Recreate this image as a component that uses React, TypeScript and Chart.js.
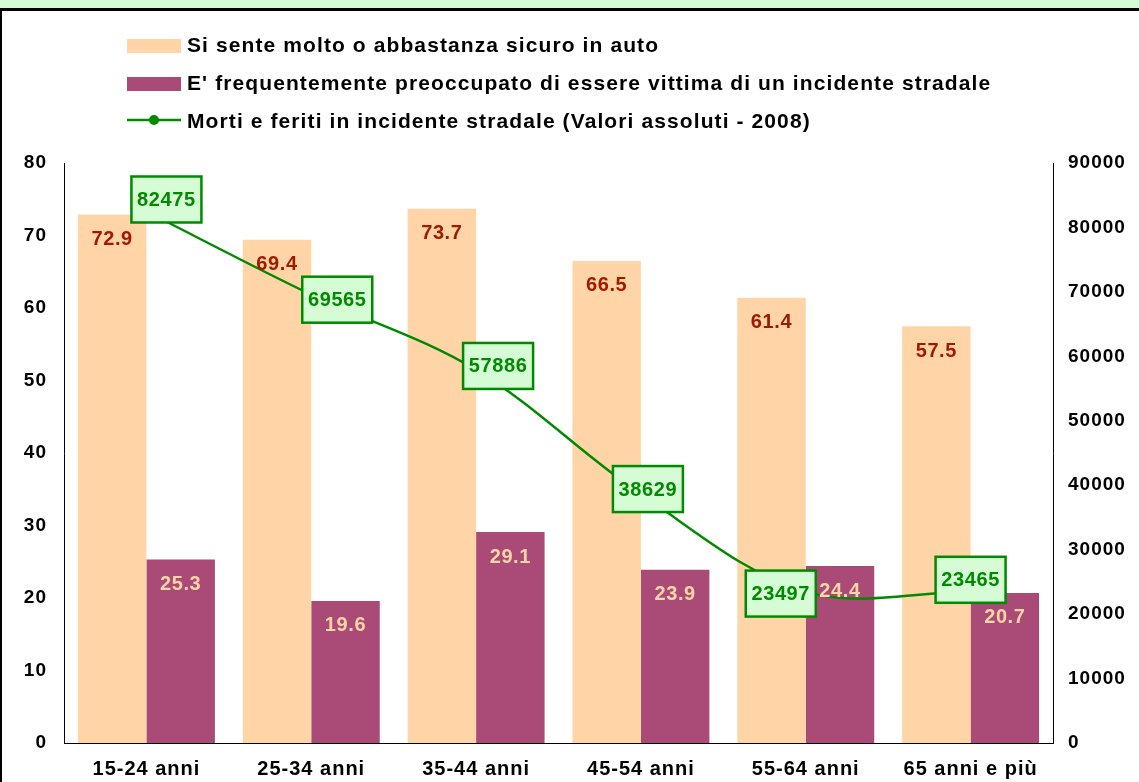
import React, { useEffect, useRef } from "react";
import { Chart, registerables } from "chart.js";

Chart.register(...registerables);

const categories = ["15-24 anni", "25-34 anni", "35-44 anni", "45-54 anni", "55-64 anni", "65 anni e più"];
const feelSafe = [72.9, 69.4, 73.7, 66.5, 61.4, 57.5];
const worried = [25.3, 19.6, 29.1, 23.9, 24.4, 20.7];
const casualties = [82475, 69565, 57886, 38629, 23497, 23465];

const seriesNames = [
  "Si sente molto o abbastanza sicuro in auto",
  "E' frequentemente preoccupato di essere vittima di un incidente stradale",
  "Morti e feriti in incidente stradale (Valori assoluti - 2008)",
];

const leftMax = 80;
const leftStep = 10;
const rightMax = 90000;
const rightStep = 10000;

// label box offsets (px) relative to each line point, as placed in the original
const labelOffsetX = [20, 26, 22, 7, -25, 0];
const labelOffsetY = [-12, 5, -4, -5, 2, -12];

const PEACH = "#ffd5a7";
const PURPLE = "#a94a77";
const GREEN = "#008a00";
const LIGHT_GREEN = "#d6fcd6";
const DARK_RED = "#a01a00";
const FONT = '"Liberation Sans", Arial, sans-serif';

const decorPlugin = {
  id: "decor",
  beforeDraw(chart: any) {
    const ctx = chart.ctx;
    ctx.letterSpacing = "1px";
    ctx.save();
    // frame
    ctx.fillStyle = LIGHT_GREEN;
    ctx.fillRect(0, 0, chart.width, 8);
    ctx.fillStyle = "#000";
    ctx.fillRect(0, 8, chart.width, 3);
    ctx.fillRect(0, 8, 2, chart.height);
    // legend
    ctx.letterSpacing = "1.1px";
    ctx.font = `bold 21px ${FONT}`;
    ctx.textBaseline = "alphabetic";
    ctx.textAlign = "left";
    const x0 = 127;
    const baselines = [51.5, 89.5, 127.5];
    ctx.fillStyle = PEACH;
    ctx.fillRect(x0, 39, 54, 14);
    ctx.fillStyle = PURPLE;
    ctx.fillRect(x0, 77, 54, 14);
    ctx.strokeStyle = GREEN;
    ctx.lineWidth = 2.5;
    ctx.beginPath();
    ctx.moveTo(x0, 120);
    ctx.lineTo(x0 + 54, 120);
    ctx.stroke();
    ctx.fillStyle = GREEN;
    ctx.beginPath();
    ctx.arc(x0 + 27, 120, 5, 0, Math.PI * 2);
    ctx.fill();
    ctx.fillStyle = "#000";
    seriesNames.forEach((n, i) => ctx.fillText(n, x0 + 60, baselines[i]));
    ctx.restore();
  },
  afterDatasetsDraw(chart: any) {
    const ctx = chart.ctx;
    ctx.save();
    ctx.letterSpacing = "0.6px";
    ctx.font = `bold 20px ${FONT}`;
    ctx.textAlign = "center";
    ctx.textBaseline = "middle";
    const m0 = chart.getDatasetMeta(0);
    const m1 = chart.getDatasetMeta(1);
    m0.data.forEach((el: any, i: number) => {
      ctx.fillStyle = DARK_RED;
      ctx.fillText(feelSafe[i].toFixed(1), el.x, el.y + 25);
    });
    m1.data.forEach((el: any, i: number) => {
      ctx.fillStyle = PEACH;
      ctx.fillText(worried[i].toFixed(1), el.x, el.y + 25);
    });
    const m2 = chart.getDatasetMeta(2);
    m2.data.forEach((el: any, i: number) => {
      const cx = el.x + labelOffsetX[i];
      const cy = el.y + labelOffsetY[i];
      const w = 70;
      const h = 46;
      ctx.fillStyle = LIGHT_GREEN;
      ctx.fillRect(cx - w / 2, cy - h / 2, w, h);
      ctx.strokeStyle = GREEN;
      ctx.lineWidth = 2.5;
      ctx.strokeRect(cx - w / 2, cy - h / 2, w, h);
      ctx.fillStyle = GREEN;
      ctx.fillText(String(casualties[i]), cx, cy + 1);
    });
    ctx.restore();
  },
};

export default function App() {
  const ref = useRef<HTMLCanvasElement>(null);
  useEffect(() => {
    if (!ref.current) return;
    Chart.defaults.font.family = FONT;
    const chart = new Chart(ref.current, {
      type: "bar",
      data: {
        labels: categories,
        datasets: [
          {
            type: "bar",
            label: seriesNames[0],
            data: feelSafe,
            backgroundColor: PEACH,
            yAxisID: "y",
            order: 2,
            categoryPercentage: 0.831,
            barPercentage: 1,
          },
          {
            type: "bar",
            label: seriesNames[1],
            data: worried,
            backgroundColor: PURPLE,
            yAxisID: "y",
            order: 2,
            categoryPercentage: 0.831,
            barPercentage: 1,
          },
          {
            type: "line",
            label: seriesNames[2],
            data: casualties,
            borderColor: GREEN,
            borderWidth: 2.5,
            backgroundColor: "#004400",
            pointRadius: 3,
            pointBorderWidth: 0,
            tension: 0.35,
            yAxisID: "y1",
            order: 1,
          } as any,
        ],
      },
      plugins: [decorPlugin],
      options: {
        responsive: true,
        maintainAspectRatio: false,
        animation: false,
        layout: { padding: { top: 163, left: 0, right: 0, bottom: 0 } },
        plugins: {
          legend: { display: false },
          tooltip: { enabled: false },
          title: { display: false },
        },
        scales: {
          x: {
            offset: true,
            grid: { display: false, drawTicks: false },
            border: { display: true, color: "#000", width: 1 },
            ticks: {
              color: "#000",
              font: { size: 20, weight: "bold" },
              padding: 14,
              maxRotation: 0,
              autoSkip: false,
            },
            afterFit: (s: any) => {
              s.height = 39;
            },
          },
          y: {
            position: "left",
            min: 0,
            max: leftMax,
            grid: { display: false, drawTicks: false },
            border: { display: true, color: "#000", width: 1 },
            ticks: {
              stepSize: leftStep,
              color: "#000",
              font: { size: 19, weight: "bold" },
              padding: 17,
              callback: (v: any) => String(v),
            },
            afterFit: (s: any) => {
              s.width = 64;
            },
          },
          y1: {
            position: "right",
            min: 0,
            max: rightMax,
            grid: { display: false, drawTicks: false },
            border: { display: true, color: "#000", width: 1 },
            ticks: {
              stepSize: rightStep,
              color: "#000",
              font: { size: 19, weight: "bold" },
              padding: 15,
              callback: (v: any) => String(v),
            },
            afterFit: (s: any) => {
              s.width = 86;
            },
          },
        },
      } as any,
    });
    return () => chart.destroy();
  }, []);
  return (
    <div style={{ position: "fixed", left: 0, top: 0, width: 1139, height: 782, background: "#fff" }}>
      <canvas ref={ref} />
    </div>
  );
}
